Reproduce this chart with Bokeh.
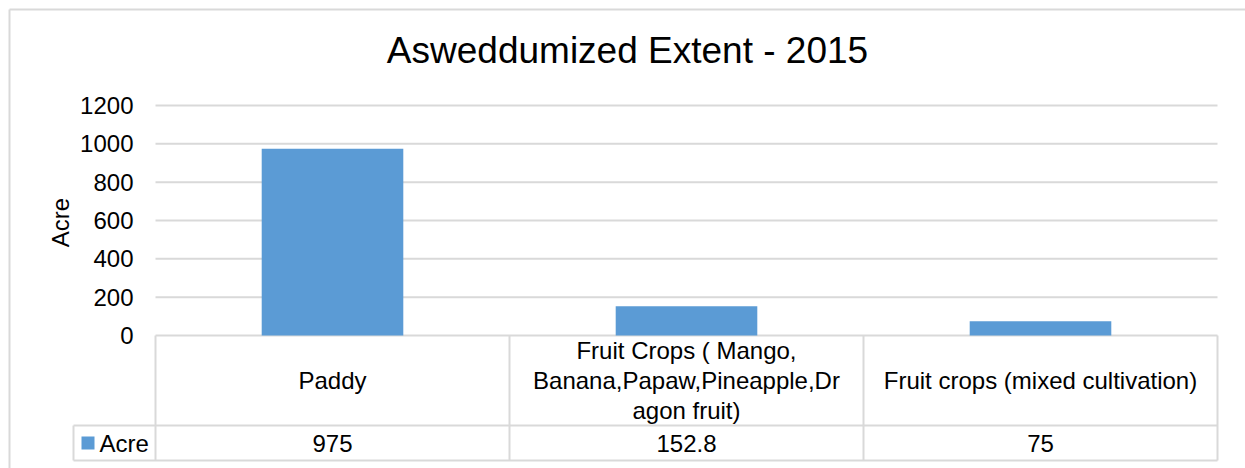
from math import pi

from bokeh.plotting import figure
from bokeh.models import Range1d
from bokeh.core.properties import value
from bokeh.embed import file_html
from bokeh.resources import INLINE

# ---- data -------------------------------------------------------------
title_text = "Asweddumized Extent - 2015"
series_name = "Acre"
categories = [
    "Paddy",
    "Fruit Crops ( Mango,\nBanana,Papaw,Pineapple,Dr\nagon fruit)",
    "Fruit crops (mixed cultivation)",
]
acre = [975, 152.8, 75]
acre_labels = ["975", "152.8", "75"]
y_ticks = [0, 200, 400, 600, 800, 1000, 1200]

# ---- layout (canvas pixels) ---------------------------------------------
W, H = 1245, 468
PLOT_L, PLOT_R, PLOT_T, PLOT_B = 155, 1217, 105, 335   # bar area
ROW1_B, ROW2_B = 425, 460                               # data table rows
LEGEND_L = 73                                           # legend key column
Y_MAX = y_ticks[-1]
N = len(categories)

UX = N / (PLOT_R - PLOT_L)        # data units per pixel, x
UY = Y_MAX / (PLOT_B - PLOT_T)    # data units per pixel, y


def dx(px):
    return (px - PLOT_L) * UX


def dy(py):
    return (PLOT_B - py) * UY


FONT = value("Liberation Sans")
GRAY = "#d9d9d9"
BLUE = "#5b9bd5"
TEXT = "#000000"
BODY = "24px"

p = figure(
    width=W, height=H,
    x_range=Range1d(dx(0), dx(W)), y_range=Range1d(dy(H), dy(0)),
    x_axis_type=None, y_axis_type=None,
    toolbar_location=None, output_backend="svg",
    min_border=0, outline_line_color=None,
    background_fill_color="white", border_fill_color="white",
)

centers = [i + 0.5 for i in range(N)]

# chart border (top and left edges)
p.segment(x0=[dx(9), dx(9)], y0=[dy(9), dy(9)], x1=[dx(W), dx(9)], y1=[dy(9), dy(H)],
          line_color=GRAY, line_width=2)

# horizontal gridlines
p.segment(x0=0, x1=N, y0=y_ticks, y1=y_ticks, line_color=GRAY, line_width=2)

# bars
p.vbar(x=centers, top=acre, bottom=0, width=0.4, fill_color=BLUE, line_color=None)

# data table grid
p.segment(x0=[dx(LEGEND_L), dx(LEGEND_L)], x1=[N, N],
          y0=[dy(ROW1_B), dy(ROW2_B)], y1=[dy(ROW1_B), dy(ROW2_B)],
          line_color=GRAY, line_width=2)
p.segment(x0=list(range(N + 1)), x1=list(range(N + 1)),
          y0=0, y1=dy(ROW2_B), line_color=GRAY, line_width=2)
p.segment(x0=dx(LEGEND_L), x1=dx(LEGEND_L), y0=dy(ROW1_B), y1=dy(ROW2_B),
          line_color=GRAY, line_width=2)

# title
p.text(x=[dx((9 + W) / 2)], y=[dy(50)], text=[title_text], text_align="center",
       text_baseline="middle", text_font=FONT, text_font_size="37px",
       text_color=TEXT)

# y tick labels
p.text(x=dx(133), y=y_ticks, text=[str(t) for t in y_ticks], text_align="right",
       text_baseline="middle", text_font=FONT, text_font_size=BODY, text_color=TEXT)

# y axis title
p.text(x=[dx(60)], y=[dy(222)], text=[series_name], angle=pi / 2,
       text_align="center", text_baseline="middle", text_font=FONT,
       text_font_size=BODY, text_color=TEXT)

# category labels (table header row)
p.text(x=centers, y=dy((PLOT_B + ROW1_B) / 2), text=categories, text_align="center",
       text_baseline="middle", text_line_height=1.12, text_font=FONT,
       text_font_size=BODY, text_color=TEXT)

# values row
p.text(x=centers, y=dy((ROW1_B + ROW2_B) / 2), text=acre_labels, text_align="center",
       text_baseline="middle", text_font=FONT, text_font_size=BODY, text_color=TEXT)

# legend key in the values row
p.quad(left=[dx(81)], right=[dx(94)], top=[dy(436)], bottom=[dy(449)],
       fill_color=BLUE, line_color=None)
p.text(x=[dx(99)], y=[dy((ROW1_B + ROW2_B) / 2)], text=[series_name], text_align="left",
       text_baseline="middle", text_font=FONT, text_font_size=BODY, text_color=TEXT)

with open("out.html", "w") as f:
    f.write(file_html(p, INLINE))
